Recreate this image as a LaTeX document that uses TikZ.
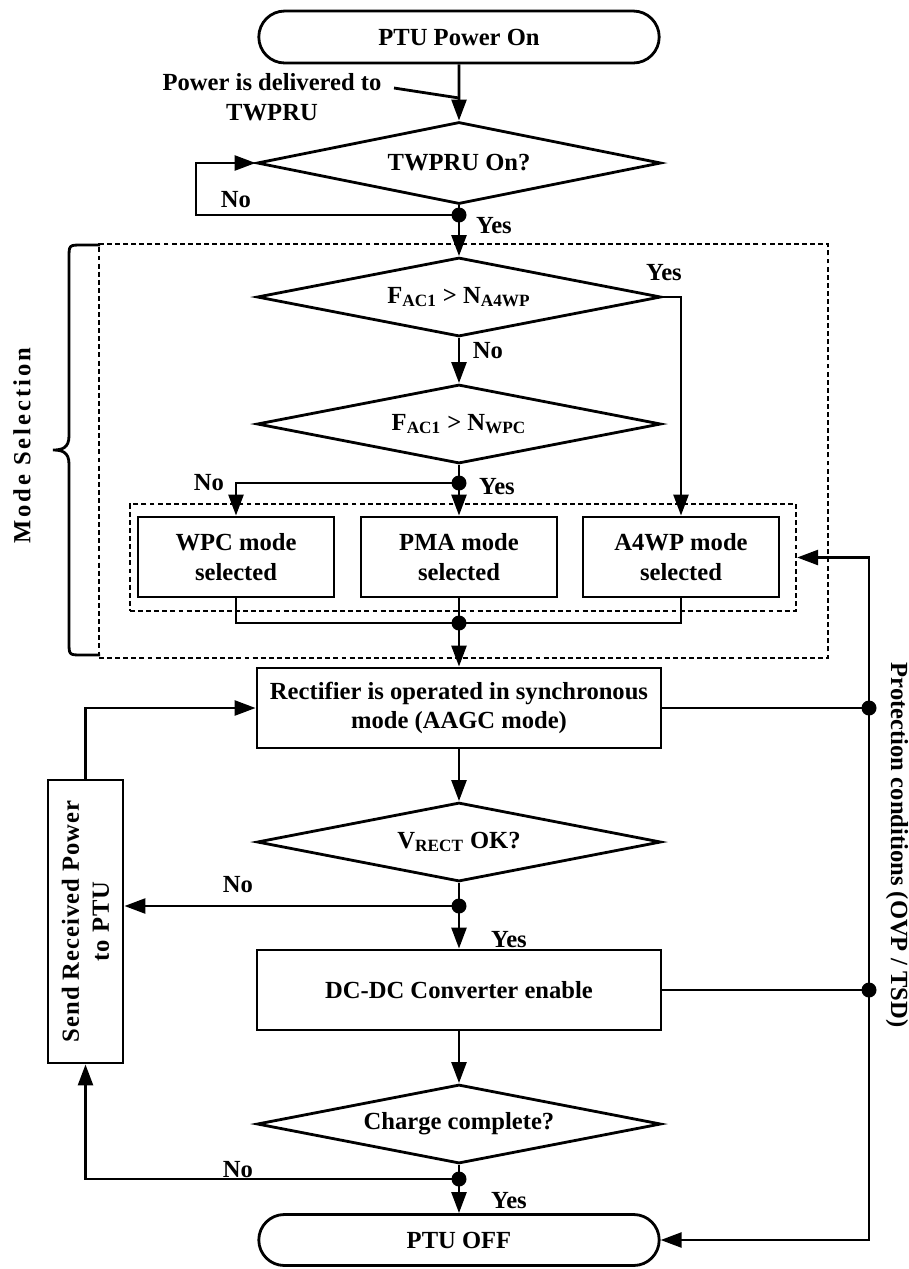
\documentclass[tikz,border=0pt]{standalone}
\usepackage{fontspec}
\setmainfont{Liberation Serif}
\newfontfamily\spacedfont[LetterSpace=12]{Liberation Serif}
\newfontfamily\sendfont[LetterSpace=4]{Liberation Serif}
\usetikzlibrary{shapes.geometric,shapes.misc,arrows.meta}
\tikzset{every path/.style={line width=1.6pt}, >={Triangle[length=12pt,width=8.5pt]},
  every node/.style={font=\bfseries\fontsize{14}{17}\selectfont, inner sep=1pt},
  term/.style={draw, rounded rectangle, minimum width=8.08cm, minimum height=1.04cm},
  decision/.style={draw, diamond, aspect=5, minimum width=8.08cm, minimum height=1.58cm, inner sep=0pt},
  process/.style={draw, rectangle, minimum width=8.08cm, minimum height=1.6cm, align=center},
  modebox/.style={draw, rectangle, minimum width=3.92cm, minimum height=1.6cm, align=center},
  dashbox/.style={draw, rectangle, line width=1.3pt, dash pattern=on 2.8pt off 1.8pt},
  dot/.style={circle, fill, minimum size=0.3cm, inner sep=0pt}}

\begin{document}
\begin{tikzpicture}[x=0.02cm, y=-0.02cm]
   \useasboundingbox (0,0) rectangle (909,1269);
   % top: power on and TWPRU check
   \node[term] (start) at (459,37) {PTU Power On};
   \node[align=center] (deliv) at (272,97) {Power is delivered to\\TWPRU};
   \node[decision, minimum height=1.64cm] (twpru) at (459,163) {TWPRU On?};
   \node[dot] (j1) at (459,215) {};
   \node (no1) at (236,200) {No};
   \node (yes1) at (494,226) {Yes};
   \coordinate (delivend) at (394,88);
   \coordinate (delivhit) at (459,98);
   \draw[->] (start) -- (twpru);
   \draw (delivend) -- (delivhit);
   \draw (twpru.south) -- (j1.center);
   \draw[->] (j1.center) -- ++(-263,0) |- (twpru.west);

   % mode selection
   \node[dashbox, minimum width=14.58cm, minimum height=8.28cm] (outer) at (463.5,451) {};
   \node[decision] (qa4wp) at (459,297) {F\textsubscript{AC1} > N\textsubscript{A4WP}};
   \node[decision] (qwpc) at (459,424) {F\textsubscript{AC1} > N\textsubscript{WPC}};
   \node[dot] (j2) at (459,483) {};
   \node[dashbox, minimum width=13.32cm, minimum height=2.14cm] (inner) at (463,557.5) {};
   \node[modebox] (wpc) at (236,557) {WPC mode\\selected};
   \node[modebox] (pma) at (459,557) {PMA mode\\selected};
   \node[modebox] (a4wp) at (681,557) {A4WP mode\\selected};
   \node[dot] (j3) at (459,623) {};
   \node (yes2) at (664,273) {Yes};
   \node (no2) at (488,351) {No};
   \node (no3) at (209,483) {No};
   \node (yes3) at (497,487) {Yes};
   \draw[->] (j1.center) -- (qa4wp.north);
   \draw[->] (qa4wp.east) -| (a4wp.north);
   \draw[->] (qa4wp.south) -- (qwpc.north);
   \draw (qwpc.south) -- (j2.center);
   \draw[->] (j2.center) -| (wpc.north);
   \draw[->] (j2.center) -- (pma.north);
   \draw (wpc.south) |- (j3.center) -| (a4wp.south);
   \draw (pma.south) -- (j3.center);
   \draw (100,245) -- (82,245) .. controls (69,245) .. (69,258) -- (69,436)
         .. controls (69,448) and (62,450) .. (53,450)
         .. controls (62,450) and (69,452) .. (69,464) -- (69,642)
         .. controls (69,655) .. (82,655) -- (100,655);
   \node[rotate=90] (modesel) at (22,446) {\spacedfont\bfseries Mode Selection};

   % charging part
   \node[process] (rect) at (459,708) {Rectifier is operated in synchronous\\mode (AAGC mode)};
   \node[decision] (qvrect) at (459,842) {V\textsubscript{RECT} OK?};
   \node[dot] (j4) at (459,906) {};
   \node[process] (dcdc) at (459,990) {DC-DC Converter enable};
   \node[decision] (qcharge) at (459,1124) {Charge complete?};
   \node[dot] (j5) at (459,1179) {};
   \node[term, minimum height=1.02cm] (off) at (459,1240) {PTU OFF};
   \node[draw, rotate=90, minimum width=5.66cm, minimum height=1.5cm, align=center] (send) at (85.5,921.5)
        {\sendfont\bfseries Send Received Power\\\sendfont\bfseries to PTU};
   \node (no4) at (238,885) {No};
   \node (yes4) at (509,940) {Yes};
   \node (no5) at (238,1170) {No};
   \node (yes5) at (509,1201) {Yes};
   \draw[->] (j3.center) -- (rect.north);
   \draw[->] (rect) -- (qvrect);
   \draw (qvrect.south) -- (j4.center);
   \draw[->] (j4.center) -- (dcdc.north);
   \draw[->] (j4.center) -- (j4 -| send.south);
   \draw[->] (dcdc) -- (qcharge);
   \draw (qcharge.south) -- (j5.center);
   \draw[->] (j5.center) -- (off.north);
   \draw[->] (j5.center) -| (send.west);
   \draw[->] (send.east) |- (rect.west);

   % protection loop
   \node[dot] (p1) at (869,708) {};
   \node[dot] (p2) at (869,990) {};
   \node[rotate=-90] (prot) at (897,845) {Protection conditions (OVP / TSD)};
   \draw (rect.east) -- (p1.center);
   \draw (dcdc.east) -- (p2.center);
   \draw[->] (p1.center) |- (inner.east);
   \draw (p1.center) -- (p2.center);
   \draw[->] (p2.center) |- (off.east);
\end{tikzpicture}
\end{document}
